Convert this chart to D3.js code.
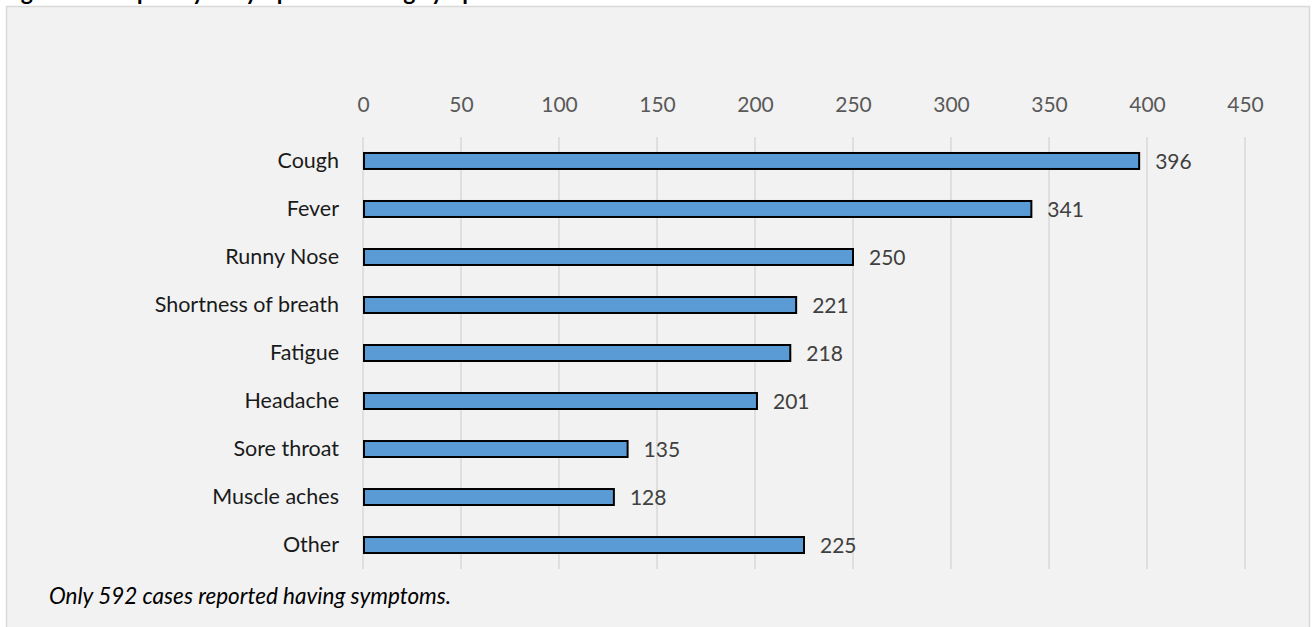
<!DOCTYPE html>
<html>
<head>
<meta charset="utf-8">
<script src="https://cdn.jsdelivr.net/npm/d3@7"></script>
<style>
  html, body { margin: 0; padding: 0; background: #ffffff; }
  svg { display: block; }
</style>
</head>
<body>
<svg id="chart" width="1316" height="627"></svg>
<script>
// Symptom counts among symptomatic cases
const symptoms = ["Cough", "Fever", "Runny Nose", "Shortness of breath", "Fatigue",
                  "Headache", "Sore throat", "Muscle aches", "Other"];
const counts = [396, 341, 250, 221, 218, 201, 135, 128, 225];
const tickValues = [0, 50, 100, 150, 200, 250, 300, 350, 400, 450];
const titleText = "Figure 5: Frequency of symptoms among symptomatic cases";
const noteText = "Only 592 cases reported having symptoms.";

const FONT = "Lato, 'Open Sans', sans-serif";
const svg = d3.select("#chart");

// Heading sits above the panel and runs off the top edge
svg.append("text")
  .attr("x", 2).attr("y", 0)
  .attr("font-family", FONT).attr("font-weight", "bold")
  .attr("font-size", 23).attr("fill", "#000")
  .text(titleText);

// Chart panel
svg.append("rect")
  .attr("x", 6.5).attr("y", 6.5)
  .attr("width", 1303).attr("height", 640)
  .attr("fill", "#f2f2f2").attr("stroke", "#d9d9d9").attr("stroke-width", 1.5);

const plot = { left: 363, right: 1245, top: 137, bottom: 569 };

const x = d3.scaleLinear().domain([0, 450]).range([plot.left, plot.right]);
const y = d3.scaleBand().domain(symptoms).range([plot.top, plot.bottom])
  .paddingInner(0.667).paddingOuter(0.333);

// Vertical gridlines
svg.append("g").selectAll("line").data(tickValues).join("line")
  .attr("x1", d => x(d)).attr("x2", d => x(d))
  .attr("y1", plot.top).attr("y2", plot.bottom)
  .attr("stroke", "#d9d9d9").attr("stroke-width", 1.5);

// Top value axis (labels only)
const xAxis = svg.append("g")
  .attr("transform", `translate(0,${plot.top - 25})`)
  .call(d3.axisTop(x).tickValues(tickValues).tickSize(0).tickPadding(0));
xAxis.select(".domain").remove();
xAxis.selectAll("text")
  .attr("font-family", FONT).attr("font-size", 21).attr("fill", "#595959");

// Category axis (labels only)
const yAxis = svg.append("g")
  .attr("transform", `translate(${plot.left - 14},0)`)
  .call(d3.axisLeft(y).tickSize(0).tickPadding(10));
yAxis.select(".domain").remove();
yAxis.selectAll("text")
  .attr("font-family", FONT).attr("font-size", 21.5).attr("fill", "#1a1a1a");

// Bars
svg.append("g").selectAll("rect").data(symptoms).join("rect")
  .attr("x", x(0) + 1)
  .attr("y", d => y(d))
  .attr("width", (d, i) => x(counts[i]) - x(0) - 1)
  .attr("height", y.bandwidth())
  .attr("fill", "#5b9bd5").attr("stroke", "#000").attr("stroke-width", 2);

// Value labels
svg.append("g").selectAll("text").data(symptoms).join("text")
  .attr("x", (d, i) => x(counts[i]) + 16)
  .attr("y", d => y(d) + y.bandwidth() / 2)
  .attr("dy", "0.36em")
  .attr("font-family", FONT).attr("font-size", 21).attr("fill", "#404040")
  .text((d, i) => counts[i]);

// Footnote
svg.append("text")
  .attr("x", 49).attr("y", 604)
  .attr("font-family", FONT).attr("font-style", "italic")
  .attr("font-size", 22.5).attr("fill", "#000")
  .text(noteText);
</script>
</body>
</html>
